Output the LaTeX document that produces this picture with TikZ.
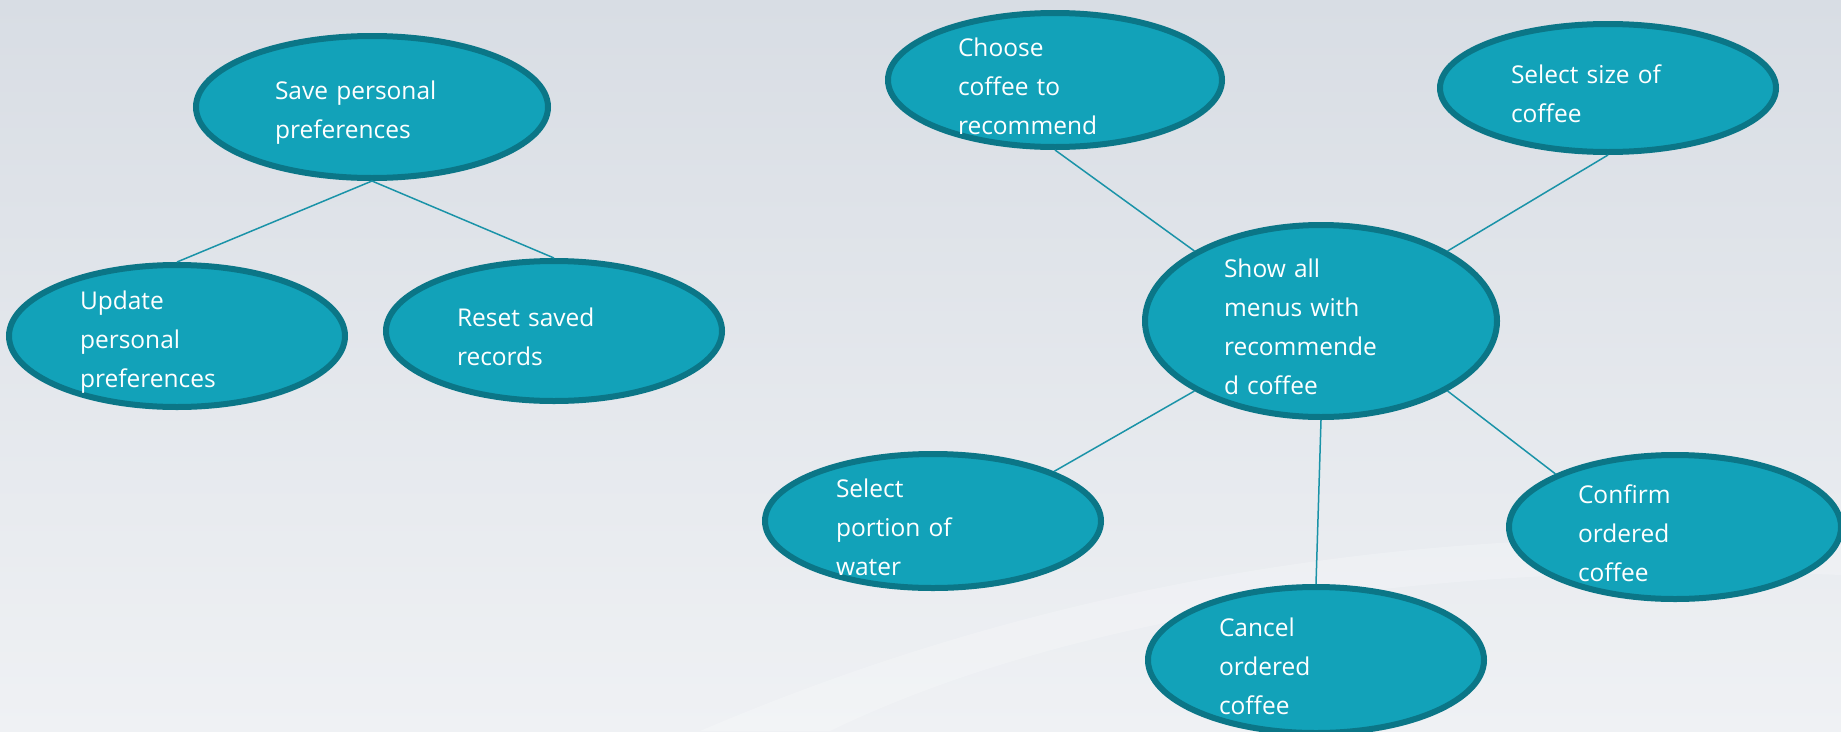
\documentclass[tikz,border=0pt]{standalone}
\usepackage{fontspec}
\setmainfont{Open Sans}
\usetikzlibrary{shapes.geometric}
\definecolor{ucfill}{HTML}{12A2B9}
\definecolor{ucborder}{HTML}{0B7687}
\definecolor{ucline}{HTML}{1A93A8}
\definecolor{bgtop}{HTML}{D8DDE4}
\definecolor{bgbottom}{HTML}{EFF1F4}
\begin{document}
\begin{tikzpicture}[x=1pt, y=-1pt,
		usecase/.style={ellipse, draw=ucborder, fill=ucfill, line width=6pt, inner sep=0pt},
		uctext/.style={text=white, text width=194pt, align=left, inner sep=0pt, yshift=-6pt,
			font=\fontsize{24.5}{39}\selectfont},
		link/.style={ucline, line width=1.5pt}
		]
	% background
	\shade[top color=bgtop, bottom color=bgbottom] (0,0) rectangle (1841,731);
	\fill[white, opacity=0.22] (700,731) .. controls (1100,560) and (1500,520) .. (1841,545)
		-- (1841,575) .. controls (1500,560) and (1100,600) .. (830,731) -- cycle;
	\useasboundingbox (0,0) rectangle (1841,731);

	% preferences
	\node [usecase, minimum width=352pt, minimum height=142pt,
		label={[uctext]center:{Save personal\\preferences}}] (save) at (372,107) {};
	\node [usecase, minimum width=336pt, minimum height=142pt,
		label={[uctext]center:{Update\\personal\\preferences}}] (update) at (177,336) {};
	\node [usecase, minimum width=336pt, minimum height=140pt,
		label={[uctext]center:{Reset saved\\records}}] (reset) at (554,331) {};

	% ordering
	\node [usecase, minimum width=352pt, minimum height=192pt,
		label={[uctext]center:{Show all\\menus with\\recommende\\d coffee}}] (show) at (1321,321) {};
	\node [usecase, minimum width=334pt, minimum height=134pt,
		label={[uctext]center:{Choose\\coffee to\\recommend}}] (choose) at (1055,80) {};
	\node [usecase, minimum width=336pt, minimum height=128pt,
		label={[uctext]center:{Select size of\\coffee}}] (size) at (1608,88) {};
	\node [usecase, minimum width=336pt, minimum height=134pt,
		label={[uctext]center:{Select\\portion of\\water}}] (water) at (933,521) {};
	\node [usecase, minimum width=336pt, minimum height=146pt,
		label={[uctext]center:{Cancel\\ordered\\coffee}}] (cancel) at (1316,660) {};
	\node [usecase, minimum width=332pt, minimum height=144pt,
		label={[uctext]center:{Confirm\\ordered\\coffee}}] (confirm) at (1675,527) {};

	\draw [link] (save.south) -- (update.north);
	\draw [link] (save.south) -- (reset.north);
	\draw [link] (choose.south) -- (show.north west);
	\draw [link] (size.south) -- (show.north east);
	\draw [link] (show.south west) -- (water.north east);
	\draw [link] (show.south) -- (cancel.north);
	\draw [link] (show.south east) -- (confirm.north west);
\end{tikzpicture}
\end{document}
